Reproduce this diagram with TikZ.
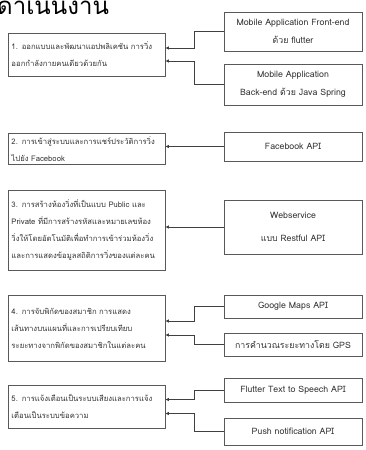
\documentclass[tikz,border=0pt]{standalone}
\usepackage{fontspec}
\newfontfamily\thaifont[Script=Thai]{Loma}
\usetikzlibrary{arrows.meta}

\begin{document}
\begin{tikzpicture}[x=1pt,y=-1pt,>={Latex[length=3.5pt,width=3.5pt]},
  task/.style={draw=black!65, line width=0.8pt, text width=150pt, inner xsep=3.5pt, align=left,
    text=black!80, font=\thaifont\fontsize{7.7}{17}\selectfont},
  tool/.style={draw=black!65, line width=0.8pt, text width=132pt, inner xsep=3pt, align=center,
    text=black!80, font=\thaifont\fontsize{8.8}{18}\selectfont},
  link/.style={->, draw=black!75, line width=0.7pt}]

% page frame
\useasboundingbox (0,0) rectangle (365,450);

% heading, cut at the top
\node[font=\thaifont\fontsize{24}{24}\selectfont, anchor=base west, inner sep=0pt] (head) at (-3,14) {ดำเนินงาน};

% work items (left column)
\node[task, minimum height=43] (app) at (86.5,54.5) {1. ออกแบบและพัฒนาแอปพลิเคชัน การวิ่ง\\ออกกำลังกายคนเดียวด้วยกัน};
\node[task, minimum height=29] (login) at (86.5,149) {2. การเข้าสู่ระบบและการแชร์ประวัติการวิ่ง\\ไปยัง Facebook};
\node[task, minimum height=80] (room) at (86.5,230) {3. การสร้างห้องวิ่งที่เป็นแบบ Public และ\\Private ที่มีการสร้างรหัสและหมายเลขห้อง\\วิ่งให้โดยอัตโนมัติเพื่อทำการเข้าร่วมห้องวิ่ง\\และการแสดงข้อมูลสถิติการวิ่งของแต่ละคน};
\node[task, minimum height=66] (track) at (86.5,328) {4. การจับพิกัดของสมาชิก การแสดง\\เส้นทางบนแผนที่และการเปรียบเทียบ\\ระยะทางจากพิกัดของสมาชิกในแต่ละคน};
\node[task, minimum height=43] (alert) at (86.5,406.5) {5. การแจ้งเตือนเป็นระบบเสียงและการแจ้ง\\เตือนเป็นระบบข้อความ};

% tools (right column)
\node[tool, minimum height=39] (front) at (293,31.5) {Mobile Application Front-end\\ด้วย flutter};
\node[tool, minimum height=41] (back) at (293,84.5) {Mobile Application\\Back-end ด้วย Java Spring};
\node[tool, minimum height=29] (fbapi) at (293,146.5) {Facebook API};
\node[tool, minimum height=54, font=\thaifont\fontsize{8.8}{23}\selectfont] (rest) at (293,227) {Webservice\\แบบ Restful API};
\node[tool, minimum height=23] (gmap) at (293,306.5) {Google Maps API};
\node[tool, minimum height=23] (gps) at (293,344.5) {การคำนวณระยะทางโดย GPS};
\node[tool, minimum height=24] (speech) at (293,390) {Flutter Text to Speech API};
\node[tool, minimum height=27] (push) at (293,431.5) {Push notification API};

% connectors
\draw[link] (front.west) -- ++(-29,0) |- ([yshift=6.5pt]app.east);
\draw[link] (back.west) -- ++(-29,0) |- ([yshift=-6.5pt]app.east);
\draw[link] (fbapi.west) -- (fbapi.west -| login.east);
\draw[link] (rest.west) -- (rest.west -| room.east);
\draw[link] (gmap.west) -- ++(-29,0) |- ([yshift=7pt]track.east);
\draw[link] (gps.west) -- ++(-29,0) |- ([yshift=-7pt]track.east);
\draw[link] (speech.west) -- ++(-29,0) |- ([yshift=7pt]alert.east);
\draw[link] (push.west) -- ++(-29,0) |- ([yshift=-7pt]alert.east);

\end{tikzpicture}
\end{document}
